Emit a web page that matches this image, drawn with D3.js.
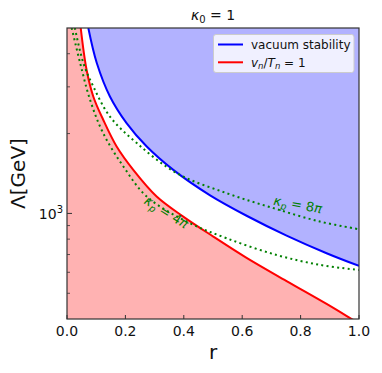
<!DOCTYPE html>
<html><head><meta charset="utf-8">
<script src="https://cdn.jsdelivr.net/npm/d3@7/dist/d3.min.js"></script>
<style>body{margin:0;background:#fff}svg{display:block}text{font-family:"DejaVu Sans",sans-serif}</style>
</head><body>
<script>
const rVac = [0.073,0.102,0.147,0.204,0.273,0.364,0.490,0.615,0.752,0.889,1.0];
const lamVac = [5000,3690,2760,2190,1787,1459,1170,980,825,708,634];
const rEW = [0.047,0.067,0.090,0.124,0.170,0.227,0.307,0.398,0.501,0.615,0.752,0.889,0.975,1.0];
const lamEW = [5000,3481,2760,2254,1787,1459,1158,973,818,680,556,456,400,385];
const r4pi = [0.016,0.045,0.079,0.124,0.193,0.273,0.410,0.547,0.718,0.866,1.0];
const lam4pi = [5000,3690,2680,2005,1503,1158,932,806,697,640,612];
const r8pi = [0.027,0.056,0.090,0.147,0.239,0.376,0.547,0.707,0.866,1.0];
const lam8pi = [5000,3690,3011,2318,1841,1418,1192,1047,932,872];
const xTicks = [0.0,0.2,0.4,0.6,0.8,1.0];
const yMinorTicks = [500,600,700,800,900,2000,3000,4000];
const yMajorTicks = [1000];

const W=382,H=373;
const L=67,R=359,T=28,B=319;
const svg=d3.select("body").append("svg").attr("width",W).attr("height",H);
const x=d3.scaleLinear().domain([0,1]).range([L,R]);
const y=d3.scaleLog().domain([400,5000]).range([B,T]);

svg.append("clipPath").attr("id","cp").append("rect").attr("x",L).attr("y",T).attr("width",R-L).attr("height",B-T);
const g=svg.append("g").attr("clip-path","url(#cp)");

const zip=(a,b)=>a.map((v,i)=>[v,b[i]]);
const vac=zip(rVac,lamVac), ew=zip(rEW,lamEW), k4=zip(r4pi,lam4pi), k8=zip(r8pi,lam8pi);
const crv=d3.curveCatmullRom.alpha(0.5);
const line=d3.line().x(d=>x(d[0])).y(d=>y(d[1])).curve(crv);

// fills
g.append("path").attr("d",d3.area().x(d=>x(d[0])).y0(B+5).y1(d=>y(d[1])).curve(crv)(ew)+`L${x(ew[0][0])},${B+5}L${L},${B+5}L${L},${T}L${x(ew[0][0])},${T}Z`)
 .attr("fill","rgba(255,0,0,0.3)");
g.append("path").attr("d",d3.area().x(d=>x(d[0])).y0(T).y1(d=>y(d[1])).curve(crv)(vac))
 .attr("fill","rgba(0,0,255,0.3)");

// lines
g.append("path").attr("d",line(vac)).attr("fill","none").attr("stroke","blue").attr("stroke-width",2);
g.append("path").attr("d",line(ew)).attr("fill","none").attr("stroke","red").attr("stroke-width",2);
[k4,k8].forEach(d=>g.append("path").attr("d",line(d)).attr("fill","none").attr("stroke","green")
  .attr("stroke-width",2).attr("stroke-dasharray","2,3.3"));

// curve labels
const lab=(cx,cy,ang,num)=>{
  const t=svg.append("text").attr("transform",`translate(${cx},${cy}) rotate(${ang})`)
    .attr("text-anchor","middle").attr("fill","green").attr("font-size",13);
  t.append("tspan").attr("font-style","italic").text("κ");
  t.append("tspan").attr("font-style","italic").attr("font-size",9.5).attr("dy",3).text("p");
  t.append("tspan").attr("dy",-3).text(" = "+num);
  t.append("tspan").attr("font-style","italic").text("π");
};
lab(297,209,10,"8");
lab(164,216,32,"4");

// frame
svg.append("rect").attr("x",L).attr("y",T).attr("width",R-L).attr("height",B-T)
  .attr("fill","none").attr("stroke","#333").attr("stroke-width",1.2);

// x ticks
xTicks.forEach(v=>{
  svg.append("line").attr("x1",x(v)).attr("x2",x(v)).attr("y1",B).attr("y2",B-4).attr("stroke","#333").attr("stroke-width",1);
  svg.append("text").attr("x",x(v)).attr("y",B+17).attr("text-anchor","middle").attr("font-size",14).attr("fill","#111").text(d3.format(".1f")(v));
});
// y ticks
yMajorTicks.forEach(v=>{
  svg.append("line").attr("x1",L).attr("x2",L+5).attr("y1",y(v)).attr("y2",y(v)).attr("stroke","#333").attr("stroke-width",1);
  const t=svg.append("text").attr("x",L-4).attr("y",y(v)+6).attr("text-anchor","end").attr("font-size",14).attr("fill","#111");
  t.append("tspan").text("10");
  t.append("tspan").attr("font-size",10).attr("dy",-6).text("3");
});
yMinorTicks.forEach(v=>{
  svg.append("line").attr("x1",L).attr("x2",L+3).attr("y1",y(v)).attr("y2",y(v)).attr("stroke","#333").attr("stroke-width",0.8);
});

// axis titles
svg.append("text").attr("x",(L+R)/2).attr("y",359).attr("text-anchor","middle").attr("font-size",20).attr("fill","#111").text("r");
svg.append("text").attr("transform",`translate(25,${(T+B)/2}) rotate(-90)`).attr("text-anchor","middle").attr("font-size",20).attr("fill","#111").text("Λ[GeV]");
// title
const tt=svg.append("text").attr("x",(L+R)/2).attr("y",20).attr("text-anchor","middle").attr("font-size",14).attr("fill","#111");
tt.append("tspan").attr("font-style","italic").text("κ");
tt.append("tspan").attr("font-size",10).attr("dy",3).text("0");
tt.append("tspan").attr("dy",-3).text(" = 1");

// legend
const lg=svg.append("g");
lg.append("rect").attr("x",213.5).attr("y",34.5).attr("width",140.5).attr("height",38).attr("rx",2.5)
  .attr("fill","rgba(255,255,255,0.8)").attr("stroke","#ccc").attr("stroke-width",1);
[["blue",44.5],["red",62.3]].forEach(([c,yy])=>lg.append("line").attr("x1",218).attr("x2",243).attr("y1",yy).attr("y2",yy).attr("stroke",c).attr("stroke-width",2));
lg.append("text").attr("x",251).attr("y",48.7).attr("font-size",12).attr("fill","#111").text("vacuum stability");
const l2=lg.append("text").attr("x",251).attr("y",66.7).attr("font-size",12).attr("fill","#111");
l2.append("tspan").attr("font-style","italic").text("v");
l2.append("tspan").attr("font-style","italic").attr("font-size",8.5).attr("dy",2.5).text("n");
l2.append("tspan").attr("dy",-2.5).text("/");
l2.append("tspan").attr("font-style","italic").text("T");
l2.append("tspan").attr("font-style","italic").attr("font-size",8.5).attr("dy",2.5).text("n");
l2.append("tspan").attr("dy",-2.5).text(" = 1");
</script>
</body></html>
